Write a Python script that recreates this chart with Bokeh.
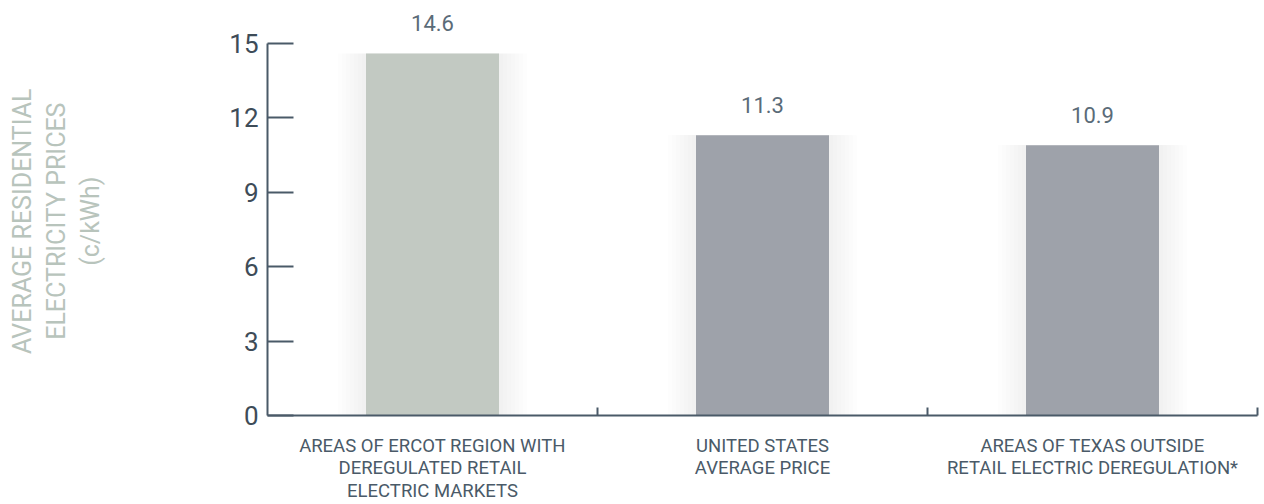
import math
from bokeh.plotting import figure
from bokeh.layouts import row
from bokeh.models import Range1d, FixedTicker, ColumnDataSource
from bokeh.core.properties import value
from bokeh.embed import file_html
from bokeh.resources import INLINE

categories = ["AREAS OF ERCOT REGION WITH\nDEREGULATED RETAIL\nELECTRIC MARKETS",
              "UNITED STATES\nAVERAGE PRICE",
              "AREAS OF TEXAS OUTSIDE\nRETAIL ELECTRIC DEREGULATION*"]
prices = [14.6, 11.3, 10.9]
price_labels = ["14.6", "11.3", "10.9"]
bar_colors = ["#c2c9c2", "#9ea2aa", "#9ea2aa"]
y_ticks = [0, 3, 6, 9, 12, 15]
y_title_lines = ["AVERAGE RESIDENTIAL", "ELECTRICITY PRICES", "(c/kWh)"]

FONT = "Roboto"
AXIS_COLOR = "#4a5a68"

centers = [i + 0.5 for i in range(len(categories))]

W, H = 1264, 504
TW = 120                      # width of the side panel holding the y title
FL, FR, FB = 267, 1257, 415   # frame left / right / bottom in page pixels
PX_PER_UNIT = (415 - 43) / 15.0
y_top = FB / PX_PER_UNIT

# ---- side panel with the rotated y-axis title ----
t = figure(width=TW, height=H, output_backend="svg", toolbar_location=None,
           x_range=Range1d(0, TW), y_range=Range1d(H, 0),
           x_axis_type=None, y_axis_type=None,
           min_border_left=0, min_border_right=0, min_border_top=0, min_border_bottom=0)
t.outline_line_color = None
t.grid.visible = False
t.border_fill_color = "white"
t.text(x=[22, 56, 90], y=[268] * 3, text=y_title_lines, angle=math.pi / 2,
       text_align="center", text_baseline="middle",
       text_font=value(FONT), text_font_size="25px", text_color="#b8c4bc")

# ---- main chart ----
p = figure(width=W - TW, height=H, output_backend="svg", toolbar_location=None,
           x_range=Range1d(0, 3), y_range=Range1d(0, y_top),
           min_border_left=FL - TW, min_border_right=W - FR, min_border_top=0,
           min_border_bottom=H - FB)
p.outline_line_color = None
p.xgrid.grid_line_color = None
p.ygrid.grid_line_color = None
p.background_fill_color = "white"
p.border_fill_color = "white"

src = ColumnDataSource(dict(x=centers, top=prices, color=bar_colors, label=price_labels))
# soft shadow halo around bars
for k in range(1, 8):
    dx = k * 4.0 / 330.0
    p.vbar(x="x", top="top", bottom=0, width=0.403 + 2 * dx, source=src,
           fill_color="#7a8088", fill_alpha=0.016, line_color=None)
p.vbar(x="x", top="top", bottom=0, width=0.403, source=src,
       fill_color="color", line_color=None)

p.text(x="x", y="top", text="label", source=src, y_offset=-30,
       text_align="center", text_baseline="middle",
       text_font=value(FONT), text_font_size="22px", text_color="#5a6b78")

# y axis
ya = p.yaxis[0]
ya.ticker = FixedTicker(ticks=y_ticks)
ya.bounds = (0, 15)
ya.axis_line_color = AXIS_COLOR
ya.axis_line_width = 2
ya.major_tick_line_color = AXIS_COLOR
ya.major_tick_line_width = 2
ya.major_tick_in = 26
ya.major_tick_out = 0
ya.minor_tick_line_color = None
ya.major_label_standoff = 9
ya.major_label_text_font = FONT
ya.major_label_text_font_size = "26px"
ya.major_label_text_color = "#3e4c58"

# x axis
xa = p.xaxis[0]
xa.ticker = FixedTicker(ticks=centers, minor_ticks=[1, 2, 3])
xa.major_label_overrides = {c: lab for c, lab in zip(centers, categories)}
xa.bounds = (0, 3)
xa.axis_line_color = AXIS_COLOR
xa.axis_line_width = 2
xa.major_tick_line_color = None
xa.major_tick_in = 0
xa.major_tick_out = 0
xa.minor_tick_line_color = AXIS_COLOR
xa.minor_tick_line_width = 2
xa.minor_tick_in = 8
xa.minor_tick_out = 0
xa.major_label_standoff = 19
xa.major_label_text_font = FONT
xa.major_label_text_font_size = "18.5px"
xa.major_label_text_color = "#4a5a68"
xa.major_label_text_line_height = 1.03

layout = row(t, p, spacing=0)
open("out.html", "w").write(file_html(layout, INLINE))
